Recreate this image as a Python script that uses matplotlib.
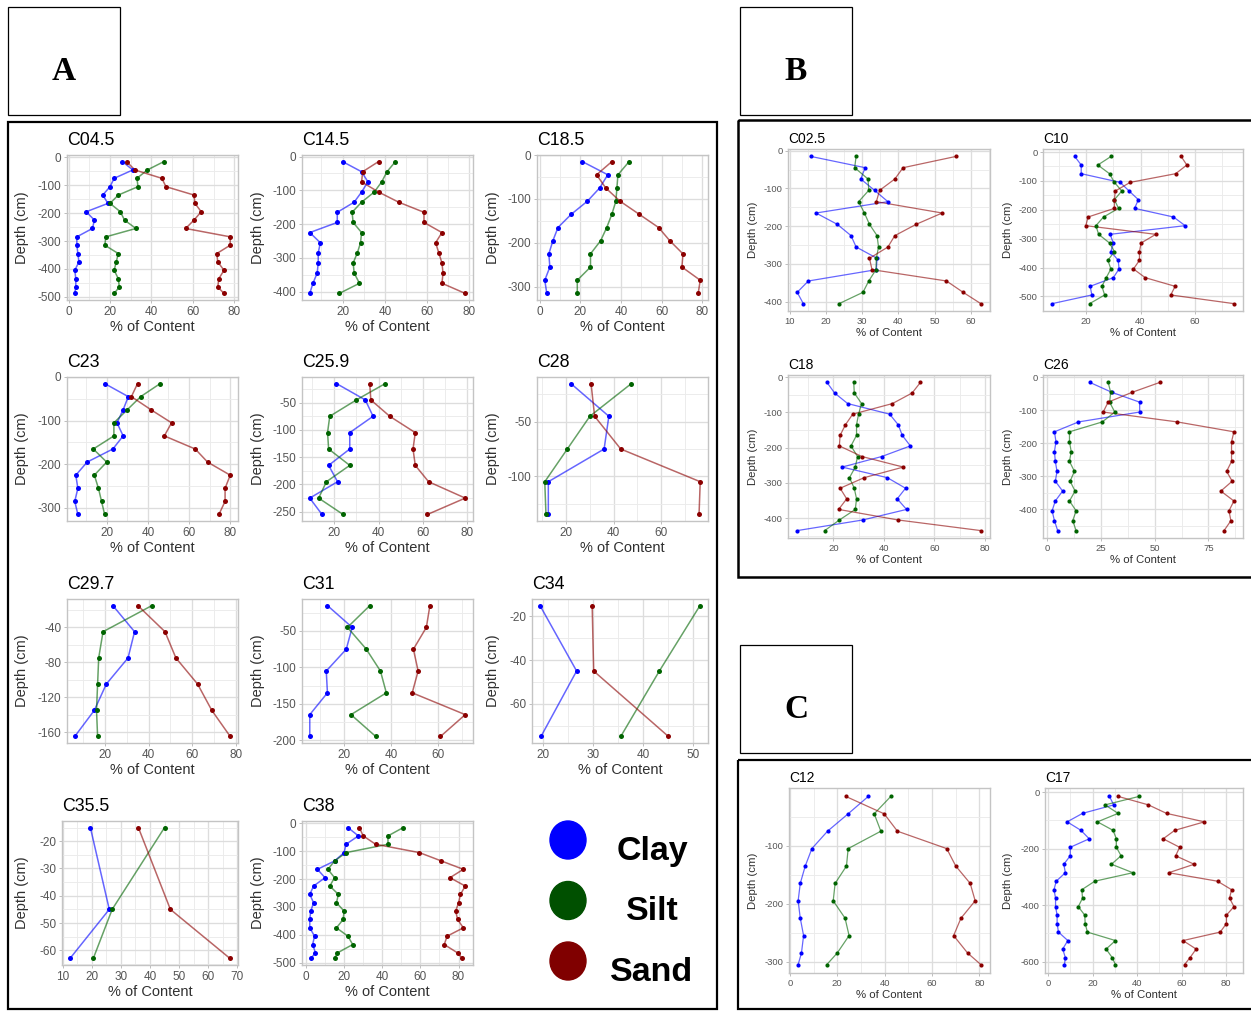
import matplotlib
matplotlib.use("Agg")
import matplotlib.pyplot as plt
import numpy as np
from matplotlib.patches import Rectangle, Ellipse

plt.rcParams['font.family'] = ['Liberation Sans', 'DejaVu Sans']
plt.rcParams['axes.unicode_minus'] = False

W, H = 1251, 1011
CLAY_COL = '#0000FF'
SILT_COL = '#006400'
SAND_COL = '#8B0000'

# ---- panel A cores ----
C045_DEPTH = [-15, -45, -75, -105, -135, -165, -195, -225, -255, -285, -315, -345, -375, -405, -435, -465, -488]
C045_CLAY = [26, 31, 22, 20, 16.5, 19, 8.5, 12.5, 11.5, 4, 4, 4.5, 5, 3, 3.5, 3.5, 3]
C045_SILT = [46, 38, 33, 33.5, 24, 20, 25, 27, 32.5, 18, 17.5, 24, 23, 22, 24, 24.5, 22]
C045_SAND = [28, 32, 45, 47, 60.5, 61, 64, 60.5, 56.5, 78, 78, 71.5, 72, 75, 72.5, 72, 75]

C145_DEPTH = [-15, -45, -75, -105, -135, -165, -195, -225, -255, -285, -315, -345, -375, -405]
C145_CLAY = [20, 29, 32, 29, 25.5, 17.5, 17.5, 4.5, 9.5, 8.5, 8.5, 8, 6, 4.5]
C145_SILT = [45, 41, 38.5, 35, 29, 24.5, 25, 29, 28.5, 27, 25, 25.5, 28, 18.5]
C145_SAND = [37, 29.5, 29, 37, 46.5, 58.5, 58.5, 67, 64, 65.5, 67, 67.5, 67, 78]

C185_DEPTH = [-15, -45, -75, -105, -135, -165, -195, -225, -255, -285, -315]
C185_CLAY = [21, 33.5, 29.5, 23.5, 15.5, 9, 6.5, 4.5, 5, 2.5, 3.5]
C185_SILT = [44, 38.5, 38, 37.5, 35.5, 33, 30, 25, 25, 18.5, 18.5]
C185_SAND = [35.5, 28, 32.5, 39.5, 49, 58.5, 64, 70.5, 70, 79, 78]

C23_DEPTH = [-15, -45, -75, -105, -135, -165, -195, -225, -255, -285, -315]
C23_CLAY = [19, 30.5, 28, 25, 28, 23, 10.5, 5, 6, 4.5, 6]
C23_SILT = [46, 36.5, 30, 23.5, 23.5, 13.5, 20, 14, 16, 17.5, 19]
C23_SAND = [35, 32, 41.5, 51.5, 48, 63, 69, 80, 77.5, 77.5, 74.5]

C259_DEPTH = [-15, -45, -75, -105, -135, -165, -195, -225, -255]
C259_CLAY = [21, 34, 37.5, 27, 27, 17.5, 21.5, 9, 14.5]
C259_SILT = [43, 30, 18, 17, 17.5, 27, 16.5, 13, 24]
C259_SAND = [36, 36.5, 45, 56.5, 55.5, 56.5, 62.5, 79, 62]

C28_DEPTH = [-15, -45, -75, -105, -135]
C28_CLAY = [22, 38, 36, 12.5, 12.5]
C28_SILT = [47.5, 30, 20.5, 11, 11.5]
C28_SAND = [30.5, 32, 43, 76.5, 76]

C297_DEPTH = [-15, -45, -75, -105, -135, -165]
C297_CLAY = [23.5, 33.5, 30.5, 20.5, 15, 6]
C297_SILT = [41.5, 19, 17, 16.5, 16, 16.5]
C297_SAND = [35, 47.5, 52.5, 62.5, 69, 77.5]

C31_DEPTH = [-15, -45, -75, -105, -135, -165, -195]
C31_CLAY = [13, 23.5, 21, 12.5, 13, 5.5, 5.5]
C31_SILT = [31, 21.5, 29.5, 35.5, 38, 23, 33.5]
C31_SAND = [56.5, 55, 49.5, 51.5, 49, 71.5, 61]

C34_DEPTH = [-15, -45, -75]
C34_CLAY = [19.4, 26.7, 19.6]
C34_SILT = [51.3, 43.2, 35.5]
C34_SAND = [29.8, 30.1, 45.0]

C355_DEPTH = [-15, -45, -63]
C355_CLAY = [19.5, 26, 12.5]
C355_SILT = [45, 27, 20.5]
C355_SAND = [36, 47, 67.5]

C38_DEPTH = [-15, -45, -75, -105, -135, -165, -195, -225, -255, -285, -315, -345, -375, -405, -435, -465, -485]
C38_CLAY = [22, 27.5, 21, 20, 15, 6, 10, 4, 2, 4, 2.5, 2, 2, 4.5, 3.5, 5, 2.5]
C38_SILT = [51, 43, 43, 21, 15, 11.5, 15, 12.5, 17, 16, 20, 19.5, 16, 22, 24.5, 16.5, 15]
C38_SAND = [28, 30, 36.5, 59.5, 71, 82.5, 75.5, 83.5, 81, 80, 78.5, 79.5, 82.5, 74, 72.5, 79.5, 82]

# ---- panel B cores ----
C025_DEPTH = [-15, -45, -75, -105, -135, -165, -195, -225, -255, -285, -315, -345, -375, -405]
C025_CLAY = [15.7, 30.8, 29.6, 33.4, 37.1, 17.2, 23.1, 26.9, 28.3, 34.1, 33.9, 15.1, 12.0, 13.7]
C025_SILT = [28.3, 27.9, 31.6, 31.8, 29.0, 30.6, 32.0, 34.1, 34.5, 33.9, 33.8, 31.8, 30.2, 23.6]
C025_SAND = [56.0, 41.3, 39.0, 34.8, 33.9, 52.1, 44.9, 39.0, 37.1, 32.0, 32.7, 53.3, 57.9, 62.8]

C10_DEPTH = [-15, -45, -75, -105, -135, -165, -195, -225, -255, -285, -315, -345, -375, -405, -435, -465, -495, -525]
C10_CLAY = [15.8, 18.2, 18.2, 32.5, 35.8, 39.2, 37.8, 52.1, 56.4, 28.8, 30.0, 29.1, 31.8, 32.1, 30.0, 21.5, 22.1, 7.5]
C10_SILT = [29.2, 24.3, 28.6, 30.4, 33.1, 30.4, 31.9, 26.4, 23.6, 24.6, 28.6, 30.4, 28.0, 29.1, 27.4, 25.8, 26.8, 21.3]
C10_SAND = [54.9, 57.0, 52.9, 36.2, 30.7, 30.4, 30.4, 20.7, 19.9, 45.6, 40.2, 39.6, 39.6, 37.4, 41.7, 52.7, 51.1, 74.3]

C18_DEPTH = [-15, -45, -75, -105, -135, -165, -195, -225, -255, -285, -315, -345, -375, -405, -435]
C18_CLAY = [17.5, 20.5, 25.7, 42.3, 45.7, 47.3, 50.5, 39.2, 23.5, 41.4, 48.6, 45.3, 49.0, 31.6, 5.7]
C18_SILT = [28.1, 28.3, 31.2, 30.0, 29.2, 29.2, 27.0, 29.6, 28.7, 26.4, 28.3, 29.2, 28.7, 22.4, 16.6]
C18_SAND = [54.5, 51.2, 43.4, 27.7, 24.8, 22.7, 22.4, 31.3, 47.7, 32.2, 22.7, 25.3, 22.1, 45.7, 78.4]

C26_DEPTH = [-15, -45, -75, -105, -135, -165, -195, -225, -255, -285, -315, -345, -375, -405, -435, -465]
C26_CLAY = [19.8, 30.0, 43.0, 43.0, 14.5, 3.3, 4.0, 3.3, 3.7, 4.5, 3.7, 7.1, 3.7, 2.2, 3.3, 4.8]
C26_SILT = [28.3, 29.5, 29.0, 31.4, 25.6, 10.3, 10.3, 11.1, 10.3, 12.6, 10.6, 12.9, 10.3, 13.4, 11.8, 13.4]
C26_SAND = [52.4, 39.5, 28.3, 26.0, 60.5, 86.9, 85.8, 85.8, 85.8, 83.5, 86.1, 80.8, 86.9, 84.6, 85.5, 82.3]

# ---- panel C cores ----
C12_DEPTH = [-15, -45, -75, -105, -135, -165, -195, -225, -255, -285, -305]
C12_CLAY = [33.1, 24.6, 15.9, 9.3, 6.5, 4.4, 3.5, 4.4, 5.8, 4.9, 3.5]
C12_SILT = [42.6, 35.6, 38.4, 24.6, 23.9, 19.1, 18.3, 23.3, 25.0, 20.0, 15.6]
C12_SAND = [23.6, 39.8, 45.4, 66.2, 70.0, 76.1, 78.2, 72.2, 69.1, 75.0, 80.6]

C17_DEPTH = [-15, -45, -75, -105, -135, -165, -195, -225, -255, -285, -315, -345, -375, -405, -435, -465, -495, -525, -555, -585, -610]
C17_CLAY = [27.6, 29.5, 15.5, 8.6, 14.8, 18.5, 10.0, 10.0, 7.1, 7.8, 3.7, 2.7, 3.4, 3.4, 4.1, 4.1, 4.7, 8.9, 6.6, 7.8, 7.4]
C17_SILT = [40.9, 25.6, 31.5, 22.2, 29.2, 30.7, 30.7, 32.8, 28.5, 38.1, 21.0, 15.2, 15.5, 13.6, 16.5, 16.7, 17.7, 30.3, 26.1, 28.8, 30.3]
C17_SAND = [31.5, 45.1, 53.2, 70.2, 56.9, 51.7, 59.1, 57.3, 65.6, 54.2, 76.1, 82.4, 81.5, 83.5, 80.1, 80.1, 77.3, 60.6, 66.5, 63.8, 61.3]

# tick marks shown on each panel
X_0_80 = [0, 20, 40, 60, 80]
X_20_80 = [20, 40, 60, 80]
X_20_60 = [20, 40, 60]
Y_500 = [0, -100, -200, -300, -400, -500]
Y_400 = [0, -100, -200, -300, -400]
Y_300 = [0, -100, -200, -300]

LEGEND_NAMES = ['Clay', 'Silt', 'Sand']
LEGEND_COLS = ['#0000FF', '#005000', '#800000']

# (title, depth, clay, silt, sand, xticks, yticks, group, row, col)
CORES = [
    ('C04.5', C045_DEPTH, C045_CLAY, C045_SILT, C045_SAND, X_0_80, Y_500, 'A', 0, 0),
    ('C14.5', C145_DEPTH, C145_CLAY, C145_SILT, C145_SAND, X_20_80, Y_400, 'A', 0, 1),
    ('C18.5', C185_DEPTH, C185_CLAY, C185_SILT, C185_SAND, X_0_80, Y_300, 'A', 0, 2),
    ('C23', C23_DEPTH, C23_CLAY, C23_SILT, C23_SAND, X_20_80, Y_300, 'A', 1, 0),
    ('C25.9', C259_DEPTH, C259_CLAY, C259_SILT, C259_SAND, X_20_80, [-50, -100, -150, -200, -250], 'A', 1, 1),
    ('C28', C28_DEPTH, C28_CLAY, C28_SILT, C28_SAND, X_20_60, [-50, -100], 'A', 1, 2),
    ('C29.7', C297_DEPTH, C297_CLAY, C297_SILT, C297_SAND, X_20_80, [-40, -80, -120, -160], 'A', 2, 0),
    ('C31', C31_DEPTH, C31_CLAY, C31_SILT, C31_SAND, X_20_60, [-50, -100, -150, -200], 'A', 2, 1),
    ('C34', C34_DEPTH, C34_CLAY, C34_SILT, C34_SAND, [20, 30, 40, 50], [-20, -40, -60], 'A', 2, 2),
    ('C35.5', C355_DEPTH, C355_CLAY, C355_SILT, C355_SAND, [10, 20, 30, 40, 50, 60, 70], [-20, -30, -40, -50, -60], 'A', 3, 0),
    ('C38', C38_DEPTH, C38_CLAY, C38_SILT, C38_SAND, X_0_80, Y_500, 'A', 3, 1),
    ('C02.5', C025_DEPTH, C025_CLAY, C025_SILT, C025_SAND, [10, 20, 30, 40, 50, 60], Y_400, 'B', 0, 0),
    ('C10', C10_DEPTH, C10_CLAY, C10_SILT, C10_SAND, X_20_60, Y_500, 'B', 0, 1),
    ('C18', C18_DEPTH, C18_CLAY, C18_SILT, C18_SAND, X_20_80, Y_400, 'B', 1, 0),
    ('C26', C26_DEPTH, C26_CLAY, C26_SILT, C26_SAND, [0, 25, 50, 75], Y_400, 'B', 1, 1),
    ('C12', C12_DEPTH, C12_CLAY, C12_SILT, C12_SAND, X_0_80, [-100, -200, -300], 'C', 0, 0),
    ('C17', C17_DEPTH, C17_CLAY, C17_SILT, C17_SAND, X_0_80, [0, -200, -400, -600], 'C', 0, 1),
]

# pixel layout of the panels
LAYOUT = {
    'A': dict(left=[67, 302, 537], right=[238, 473, 708], top=[155, 377, 599, 821],
              bottom=[300, 521, 743, 965], ylab=[22, 258, 493]),
    'B': dict(left=[788, 1043], right=[990, 1243], top=[149, 375], bottom=[311, 538], ylab=[753, 1008]),
    'C': dict(left=[789, 1045], right=[990, 1243], top=[788], bottom=[973], ylab=[753, 1008]),
}
BIG = dict(title=12.8, label=10.5, tick=8.5, pad=7.5, ms=3.6, lw=1.1)
SMALL = dict(title=10, label=8.2, tick=6.8, pad=4.5, ms=3.0, lw=0.9)


def expanded(values):
    lo, hi = min(values), max(values)
    d = 0.05 * (hi - lo)
    return lo - d, hi + d


def minor_between(ticks, lo, hi):
    st = abs(ticks[1] - ticks[0])
    m = np.arange(min(ticks) - 10.5 * st, max(ticks) + 11 * st, st)
    return [v for v in m if lo <= v <= hi]


def draw_core(fig, name, depth, clay, silt, sand, xt, yt, group, row, col):
    lay = LAYOUT[group]
    st = BIG if group == 'A' else SMALL
    widest = max(len(str(t)) for t in yt)
    left = lay['left'][col] - 5 * (4 - widest)
    right = lay['right'][col]
    top = lay['top'][row]
    bottom = lay['bottom'][row]
    ax = fig.add_axes([left / W, 1 - bottom / H, (right - left) / W, (bottom - top) / H])

    for vals, c in ((clay, CLAY_COL), (silt, SILT_COL), (sand, SAND_COL)):
        ax.plot(vals, depth, color=c, lw=st['lw'], alpha=0.6, zorder=3)
        ax.plot(vals, depth, 'o', color=c, ms=st['ms'], mec='none', zorder=4)

    xlo, xhi = expanded(clay + silt + sand)
    ylo, yhi = expanded(depth)
    ax.set_xlim(xlo, xhi)
    ax.set_ylim(ylo, yhi)
    ax.set_xticks(xt)
    ax.set_xticklabels([str(t) for t in xt])
    ax.set_yticks(yt)
    ax.set_yticklabels([str(t) for t in yt])
    ax.set_xticks(minor_between(xt, xlo, xhi), minor=True)
    ax.set_yticks(minor_between(yt, ylo, yhi), minor=True)

    ax.set_axisbelow(True)
    ax.grid(which='major', color='#DDDDDD', lw=0.95)
    ax.grid(which='minor', color='#EBEBEB', lw=0.65)
    ax.tick_params(which='minor', length=0)
    ax.tick_params(which='major', length=2.5, width=0.6, color='#B3B3B3',
                   labelsize=st['tick'], labelcolor='#555555', pad=1.5)
    for sp in ax.spines.values():
        sp.set_color('#C4C4C4')
        sp.set_linewidth(1.0)

    ax.set_title(name, loc='left', fontsize=st['title'], pad=st['pad'], color='black')
    ax.set_xlabel('% of Content', fontsize=st['label'], color='#303030', labelpad=2)
    ax.set_ylabel('Depth (cm)', fontsize=st['label'], color='#303030', va='center')
    ax.yaxis.set_label_coords((lay['ylab'][col] - left) / (right - left), 0.5)
    return ax


fig = plt.figure(figsize=(W / 100, H / 100), dpi=100)
fig.patch.set_facecolor('white')

for core in CORES:
    draw_core(fig, *core)

# frames, panel letters and the colour key
ov = fig.add_axes([0, 0, 1, 1])
ov.set_xlim(0, W)
ov.set_ylim(H, 0)
ov.axis('off')

ov.add_patch(Rectangle((8, 122), 709, 887, fill=False, ec='black', lw=1.6))
ov.add_patch(Rectangle((738, 120), 530, 457, fill=False, ec='black', lw=1.8))
ov.add_patch(Rectangle((738, 760), 530, 249, fill=False, ec='black', lw=1.6))

for letter, (bx, by) in zip('ABC', [(8, 7), (740, 7), (740, 645)]):
    ov.add_patch(Rectangle((bx, by), 112, 108, fill=False, ec='black', lw=0.9))
    ov.text(bx + 56, by + 65, letter, ha='center', va='center', fontsize=24,
            fontweight='bold', family=['Liberation Serif', 'DejaVu Serif'])

for i, (lab, c) in enumerate(zip(LEGEND_NAMES, LEGEND_COLS)):
    cy = 840 + i * 60.5
    ov.add_patch(Ellipse((568, cy), 36, 38, color=c))
    ov.text(652, cy + 20, lab, ha='center', va='baseline', fontsize=24.5, fontweight='bold')

fig.savefig('out.png', dpi=100)
